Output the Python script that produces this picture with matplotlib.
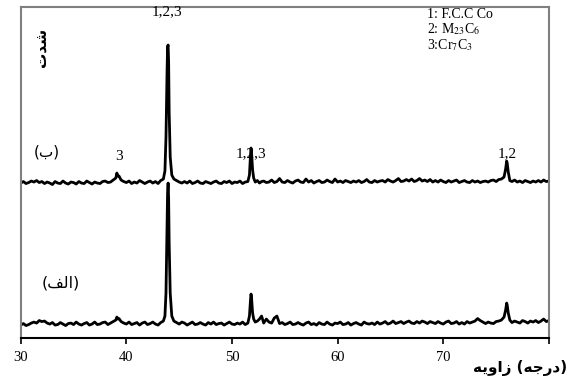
import matplotlib
matplotlib.use("Agg")
import matplotlib.pyplot as plt

plt.rcParams["mathtext.fontset"] = "stix"

# 2-theta scan positions (deg)
two_theta = [
    30.0, 30.25, 30.5, 30.75, 31.0, 31.25, 31.5, 31.75, 32.0, 32.25,
    32.5, 32.75, 33.0, 33.25, 33.5, 33.75, 34.0, 34.25, 34.5, 34.75,
    35.0, 35.25, 35.5, 35.75, 36.0, 36.25, 36.5, 36.75, 37.0, 37.25,
    37.5, 37.75, 38.0, 38.25, 38.5, 38.75, 39.0, 39.1, 39.2, 39.3,
    39.5, 39.75, 40.0, 40.25, 40.5, 40.75, 41.0, 41.25, 41.5, 41.75,
    42.0, 42.25, 42.5, 42.75, 43.0, 43.25, 43.5, 43.65, 43.75, 43.85,
    43.9, 43.95, 44.0, 44.05, 44.15, 44.3, 44.5, 44.75, 45.0, 45.25,
    45.5, 45.75, 46.0, 46.25, 46.5, 46.75, 47.0, 47.25, 47.5, 47.75,
    48.0, 48.25, 48.5, 48.75, 49.0, 49.25, 49.5, 49.75, 50.0, 50.25,
    50.5, 50.75, 51.0, 51.25, 51.5, 51.65, 51.75, 51.8, 51.85, 51.95,
    52.05, 52.2, 52.4, 52.6, 52.8, 53.0, 53.25, 53.5, 53.75, 54.0,
    54.25, 54.5, 54.75, 55.0, 55.25, 55.5, 55.75, 56.0, 56.25, 56.5,
    56.75, 57.0, 57.25, 57.5, 57.75, 58.0, 58.25, 58.5, 58.75, 59.0,
    59.25, 59.5, 59.75, 60.0, 60.25, 60.5, 60.75, 61.0, 61.25, 61.5,
    61.75, 62.0, 62.25, 62.5, 62.75, 63.0, 63.25, 63.5, 63.75, 64.0,
    64.25, 64.5, 64.75, 65.0, 65.25, 65.5, 65.75, 66.0, 66.25, 66.5,
    66.75, 67.0, 67.25, 67.5, 67.75, 68.0, 68.25, 68.5, 68.75, 69.0,
    69.25, 69.5, 69.75, 70.0, 70.25, 70.5, 70.75, 71.0, 71.25, 71.5,
    71.75, 72.0, 72.25, 72.5, 72.75, 73.0, 73.25, 73.5, 73.75, 74.0,
    74.25, 74.5, 74.75, 75.0, 75.25, 75.5, 75.75, 75.9, 76.0, 76.05,
    76.15, 76.3, 76.5, 76.75, 77.0, 77.25, 77.5, 77.75, 78.0, 78.25,
    78.5, 78.75, 79.0, 79.25, 79.5, 79.75, 80.0,
]

# sample (alef) - lower trace
intensity_alef = [
    13, 14.5, 12.5, 13.5, 15, 16, 15, 17.5, 16.5, 17,
    15, 14, 15.5, 13, 13.5, 15.5, 14, 12.5, 14.5, 15,
    13.5, 16, 14, 13, 14.5, 15.5, 13, 14, 16, 13.5,
    14, 15.5, 16, 13.5, 15, 16.5, 18, 21, 19, 19.5,
    16.5, 15, 14, 16, 13.5, 14.5, 15.5, 13, 15, 16,
    13.5, 14.5, 16, 14, 13, 15.5, 17, 22, 45, 110,
    145, 155, 140, 95, 45, 22, 17, 15.5, 14, 16,
    15, 13, 14.5, 16, 13.5, 14, 15.5, 14, 13, 15.5,
    14, 16, 13.5, 14.5, 15, 13, 14.5, 16, 14, 13.5,
    15, 14, 16, 13.5, 15, 22, 38, 44, 40, 25,
    19, 16, 17, 19, 22, 15, 19, 16, 15, 20,
    22, 14.5, 15.5, 13.5, 14.5, 16, 13.5, 14, 15.5, 14,
    13, 15, 16, 13.5, 14.5, 13, 15.5, 14, 13.5, 16,
    14, 13, 15, 14.5, 16, 13.5, 14, 15.5, 13, 14.5,
    15.5, 14, 13, 16, 14.5, 14, 15, 13.5, 16, 14,
    15, 16.5, 14, 15, 17, 14.5, 15.5, 16.5, 14.5, 16,
    17, 15, 14.5, 16.5, 15, 17, 16, 14.5, 16.5, 15.5,
    14.5, 16.5, 15, 14, 16, 17, 14.5, 15, 16.5, 14,
    15.5, 14, 16.5, 15, 16, 17, 19.5, 17.5, 16, 14.5,
    16, 15, 14.5, 16.5, 17, 18, 21, 28, 35, 33,
    25, 18, 15.5, 17, 16, 15, 17.5, 16.5, 15, 17,
    16, 17.5, 15.5, 17, 19, 16.5, 17.5,
]

# sample (be) - upper trace, before vertical offset
intensity_be = [
    14, 15.5, 13.5, 14.5, 16, 15, 16.5, 14.5, 15.5, 13.5,
    15, 14, 12.5, 15.5, 14, 13.5, 16, 14, 13, 15,
    14.5, 13, 15.5, 14, 13.5, 16, 14.5, 13, 15, 14,
    13.5, 15.5, 16, 14.5, 15, 17, 19, 24, 21, 21,
    17, 15.5, 14.5, 16, 13.5, 15, 14, 16.5, 15, 13.5,
    15, 16, 14, 15.5, 13.5, 16.5, 18, 26, 60, 125,
    150, 152, 135, 85, 40, 22, 18, 16.5, 15, 14,
    15.5, 14, 16, 13.5, 14.5, 16, 14, 13.5, 15.5, 14.5,
    13.5, 15, 16, 14, 13.5, 15.5, 14.5, 16, 13.5, 15,
    14.5, 16, 13.5, 15, 15.5, 22, 42, 49, 44, 27,
    19, 15, 16.5, 14, 15.5, 16, 14.5, 15, 17, 14.5,
    15.5, 18.5, 15, 14.5, 16.5, 15, 14, 16, 17, 15,
    14.5, 18, 15, 16.5, 14, 15.5, 16.5, 14.5, 15, 17,
    15.5, 14.5, 18, 15, 16, 14.5, 16.5, 15.5, 14.5, 16,
    15, 16.5, 14.5, 15.5, 17.5, 15, 14.5, 16.5, 15, 16,
    16.5, 15, 17.5, 16, 15, 16.5, 18.5, 15.5, 16, 17.5,
    16, 18, 15.5, 16.5, 18.5, 16, 17, 15.5, 17.5, 15,
    16.5, 15, 17, 15.5, 14.5, 16.5, 15, 16, 17, 14.5,
    15.5, 16.5, 15, 14.5, 16.5, 15, 16, 14.5, 15.5, 16,
    15, 16.5, 17, 15.5, 17.5, 18, 20, 28, 36, 34,
    25, 16.5, 15.5, 17, 15, 16, 14.5, 16.5, 15.5, 14.5,
    16, 15, 16.5, 15, 17, 15.5, 16,
]
offset_be = 141

peak_labels = ["1,2,3", "3", "1,2,3", "1,2"]
peak_label_x = [43.87, 39.3, 51.83, 76.1]
peak_label_y = [326, 182, 184, 184]

phase_lines = ["1: F.C.C Co", r"2: M$_{\mathrm{23}}$C$_{\mathrm{6}}$", r"3:Cr$_{\mathrm{7}}$C$_{\mathrm{3}}$"]
phase_y = [0.962, 0.922, 0.881]
x_ticks = [30, 40, 50, 60, 70, 80]
x_ticklabels = ["30", "40", "50", "60", "70", ""]

# Persian strings in shaped (presentation) form, visual order
label_be = "(\uFE8F)"
label_alef = "(\uFED2\uFEDF\uFE8D)"
label_y = "\uFE95\uFEAA\uFEB7"
label_x = "\uFEEA\uFEF3\uFEED\uFE8D\uFEAF (\uFEEA\uFE9F\uFEAD\uFEA9)"

serif = "Liberation Serif"

fig = plt.figure(figsize=(5.76, 3.79), dpi=100)
ax = fig.add_axes([0.036, 0.108, 0.917, 0.8735])

ax.plot(two_theta, intensity_alef, color="black", lw=2.0)
ax.plot(two_theta, [v + offset_be for v in intensity_be], color="black", lw=2.0)

ax.set_xlim(30, 80)
ax.set_ylim(0, 331)
ax.set_yticks([])
ax.set_xticks(x_ticks)
ax.set_xticklabels(x_ticklabels, fontfamily=serif, fontsize=10.5)
ax.tick_params(axis="x", direction="out", length=4, width=1.2, color="black", pad=5)

for side in ["left", "right", "top"]:
    ax.spines[side].set_color("#808080")
    ax.spines[side].set_linewidth(1.5)
ax.spines["bottom"].set_color("black")
ax.spines["bottom"].set_linewidth(1.5)

for txt, px, py in zip(peak_labels, peak_label_x, peak_label_y):
    ax.text(px, py, txt, fontfamily=serif, fontsize=11, ha="center", va="center")

for line, fy in zip(phase_lines, phase_y):
    fig.text(0.741, fy, line, fontfamily=serif, fontsize=10, ha="left", va="center")

ax.text(32.5, 186, label_be, fontfamily="DejaVu Sans", fontsize=11, ha="center", va="center")
ax.text(33.8, 55, label_alef, fontfamily="DejaVu Sans", fontsize=11.5, ha="center", va="center")

fig.text(0.073, 0.876, label_y, fontfamily="DejaVu Sans", fontweight="bold",
         fontsize=11, rotation=90, ha="center", va="center")
fig.text(0.903, 0.03, label_x, fontfamily="DejaVu Sans", fontweight="bold",
         fontsize=11, ha="center", va="center")

fig.savefig("out.png", dpi=100)
